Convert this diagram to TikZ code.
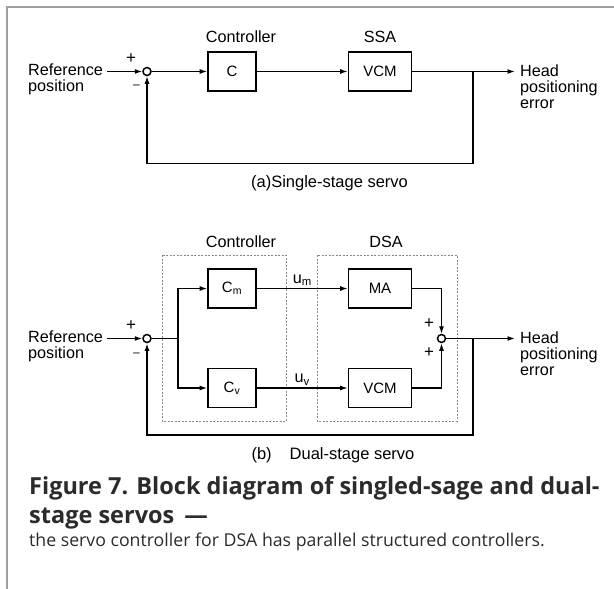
\documentclass[tikz,border=0pt]{standalone}
\usepackage{fontspec}
\setmainfont{Liberation Sans}
\newfontfamily\capfont{Open Sans}
\usetikzlibrary{arrows.meta,positioning}
\definecolor{framegray}{HTML}{A0A0A0}
\definecolor{zonegray}{HTML}{8A8A8A}
\definecolor{captext}{HTML}{2B2B2B}
\begin{document}
\begin{tikzpicture}[
    x=1pt, y=-1pt,
    block/.style={rectangle, draw, line width=1.6pt, minimum height=39pt, inner sep=0pt, font=\fontsize{15}{16}\selectfont},
    ctrl/.style={block, minimum width=48pt},
    act/.style={block, minimum width=63pt},
    sumpt/.style={circle, draw, line width=1.5pt, minimum size=8pt, inner sep=0pt},
    sign/.style={inner sep=0pt, font=\fontsize{17}{17}\selectfont},
    minus/.style={inner sep=0pt, font=\fontsize{12}{12}\selectfont},
    txt/.style={inner sep=0pt, font=\fontsize{16.2}{16}\selectfont, align=left},
    sub/.style={inner sep=0pt, font=\fontsize{16.5}{18}\selectfont},
    zone/.style={draw=zonegray, line width=0.7pt, dash pattern=on 2pt off 1.5pt},
    wire/.style={line width=1.3pt},
    flow/.style={wire, -{Latex[length=7.5pt,width=5pt]}},
    captitle/.style={inner sep=0pt, text=captext, align=left, font=\capfont\bfseries\fontsize{23.5}{29}\selectfont},
    capbody/.style={inner sep=0pt, text=captext, font=\capfont\fontsize{17.7}{20}\selectfont}
]

\useasboundingbox[fill=white] (0,0) rectangle (614,589);
\draw[framegray, line width=2pt] (614,7) -- (7,7) -- (7,589);

\node[txt, anchor=west] (refa) at (28,79) {Reference\\position};
\coordinate (refouta) at (107,71.5);
\node[sumpt] (s1) at (147,71.5) {};
\node[sign] (s1p) at (131,59) {+};
\node[minus] (s1m) at (136.5,87) {\textendash};
\node[txt] (ctrla) at (241,37) {Controller};
\node[ctrl] (C) at (232,71.5) {C};
\node[txt] (ssa) at (380,37) {SSA};
\node[act] (vcma) at (380,71.5) {VCM};
\coordinate (br1) at (473,71.5);
\coordinate (outa) at (515,71.5);
\node[txt, anchor=west] (heada) at (520,87) {Head\\positioning\\error};
\node[sub] (capa) at (329.5,183) {(a)Single-stage servo};

\draw[flow] (refouta) -- (s1);
\draw[flow] (s1) -- (C);
\draw[flow] (C) -- (vcma);
\draw[flow] (vcma) -- (outa);
\draw[flow] (br1) -- ++(0,92) -| (s1);

\node[txt] (ctrlb) at (241,242) {Controller};
\node[txt] (dsa) at (386,242) {DSA};
\draw[zone] (162,255) rectangle (286,421);
\draw[zone] (317,255) rectangle (457,421);

\node[txt, anchor=west] (refb) at (28,346) {Reference\\position};
\coordinate (refoutb) at (107,338.5);
\node[sumpt] (s3) at (147,338.5) {};
\node[sign] (s3p) at (131,326) {+};
\node[minus] (s3m) at (136.5,355) {\textendash};
\coordinate (br2) at (178,338.5);
\node[ctrl] (Cm) at (232,288.5) {C\textsubscript{m}};
\node[ctrl] (Cv) at (232,388) {C\textsubscript{v}};
\node[act] (MA) at (380,288.5) {MA};
\node[act] (vcmb) at (380,388) {VCM};
\node[sumpt] (s4) at (441.5,338.5) {};
\node[sign] (s4a) at (429,323.5) {+};
\node[sign] (s4b) at (429,353) {+};
\coordinate (br3) at (473,338.5);
\coordinate (outb) at (515,338.5);
\node[txt, anchor=west] (headb) at (520,354) {Head\\positioning\\error};
\node[sub] (capb) at (333,455) {(b)\hspace{18pt}Dual-stage servo};

\draw[flow] (refoutb) -- (s3);
\draw[wire] (s3) -- (br2);
\draw[flow] (br2) |- (Cm);
\draw[flow] (br2) |- (Cv);
\draw[flow] (Cm) -- node[txt, above=2pt] {u\textsubscript{m}} (MA);
\draw[flow] (Cv) -- node[txt, above=2pt] {u\textsubscript{v}} (vcmb);
\draw[flow] (MA) -| (s4);
\draw[flow] (vcmb) -| (s4);
\draw[flow] (s4) -- (outb);
\draw[flow, line width=1.7pt] (br3) -- ++(0,96.5) -| (s3);

\node[captitle, anchor=west] (figcap) at (29,502.5) {Figure 7. Block diagram of singled-sage and dual-\\stage servos \,—};
\node[capbody, anchor=west] (figtext) at (29,542) {the servo controller for DSA has parallel structured controllers.};

\end{tikzpicture}
\end{document}
